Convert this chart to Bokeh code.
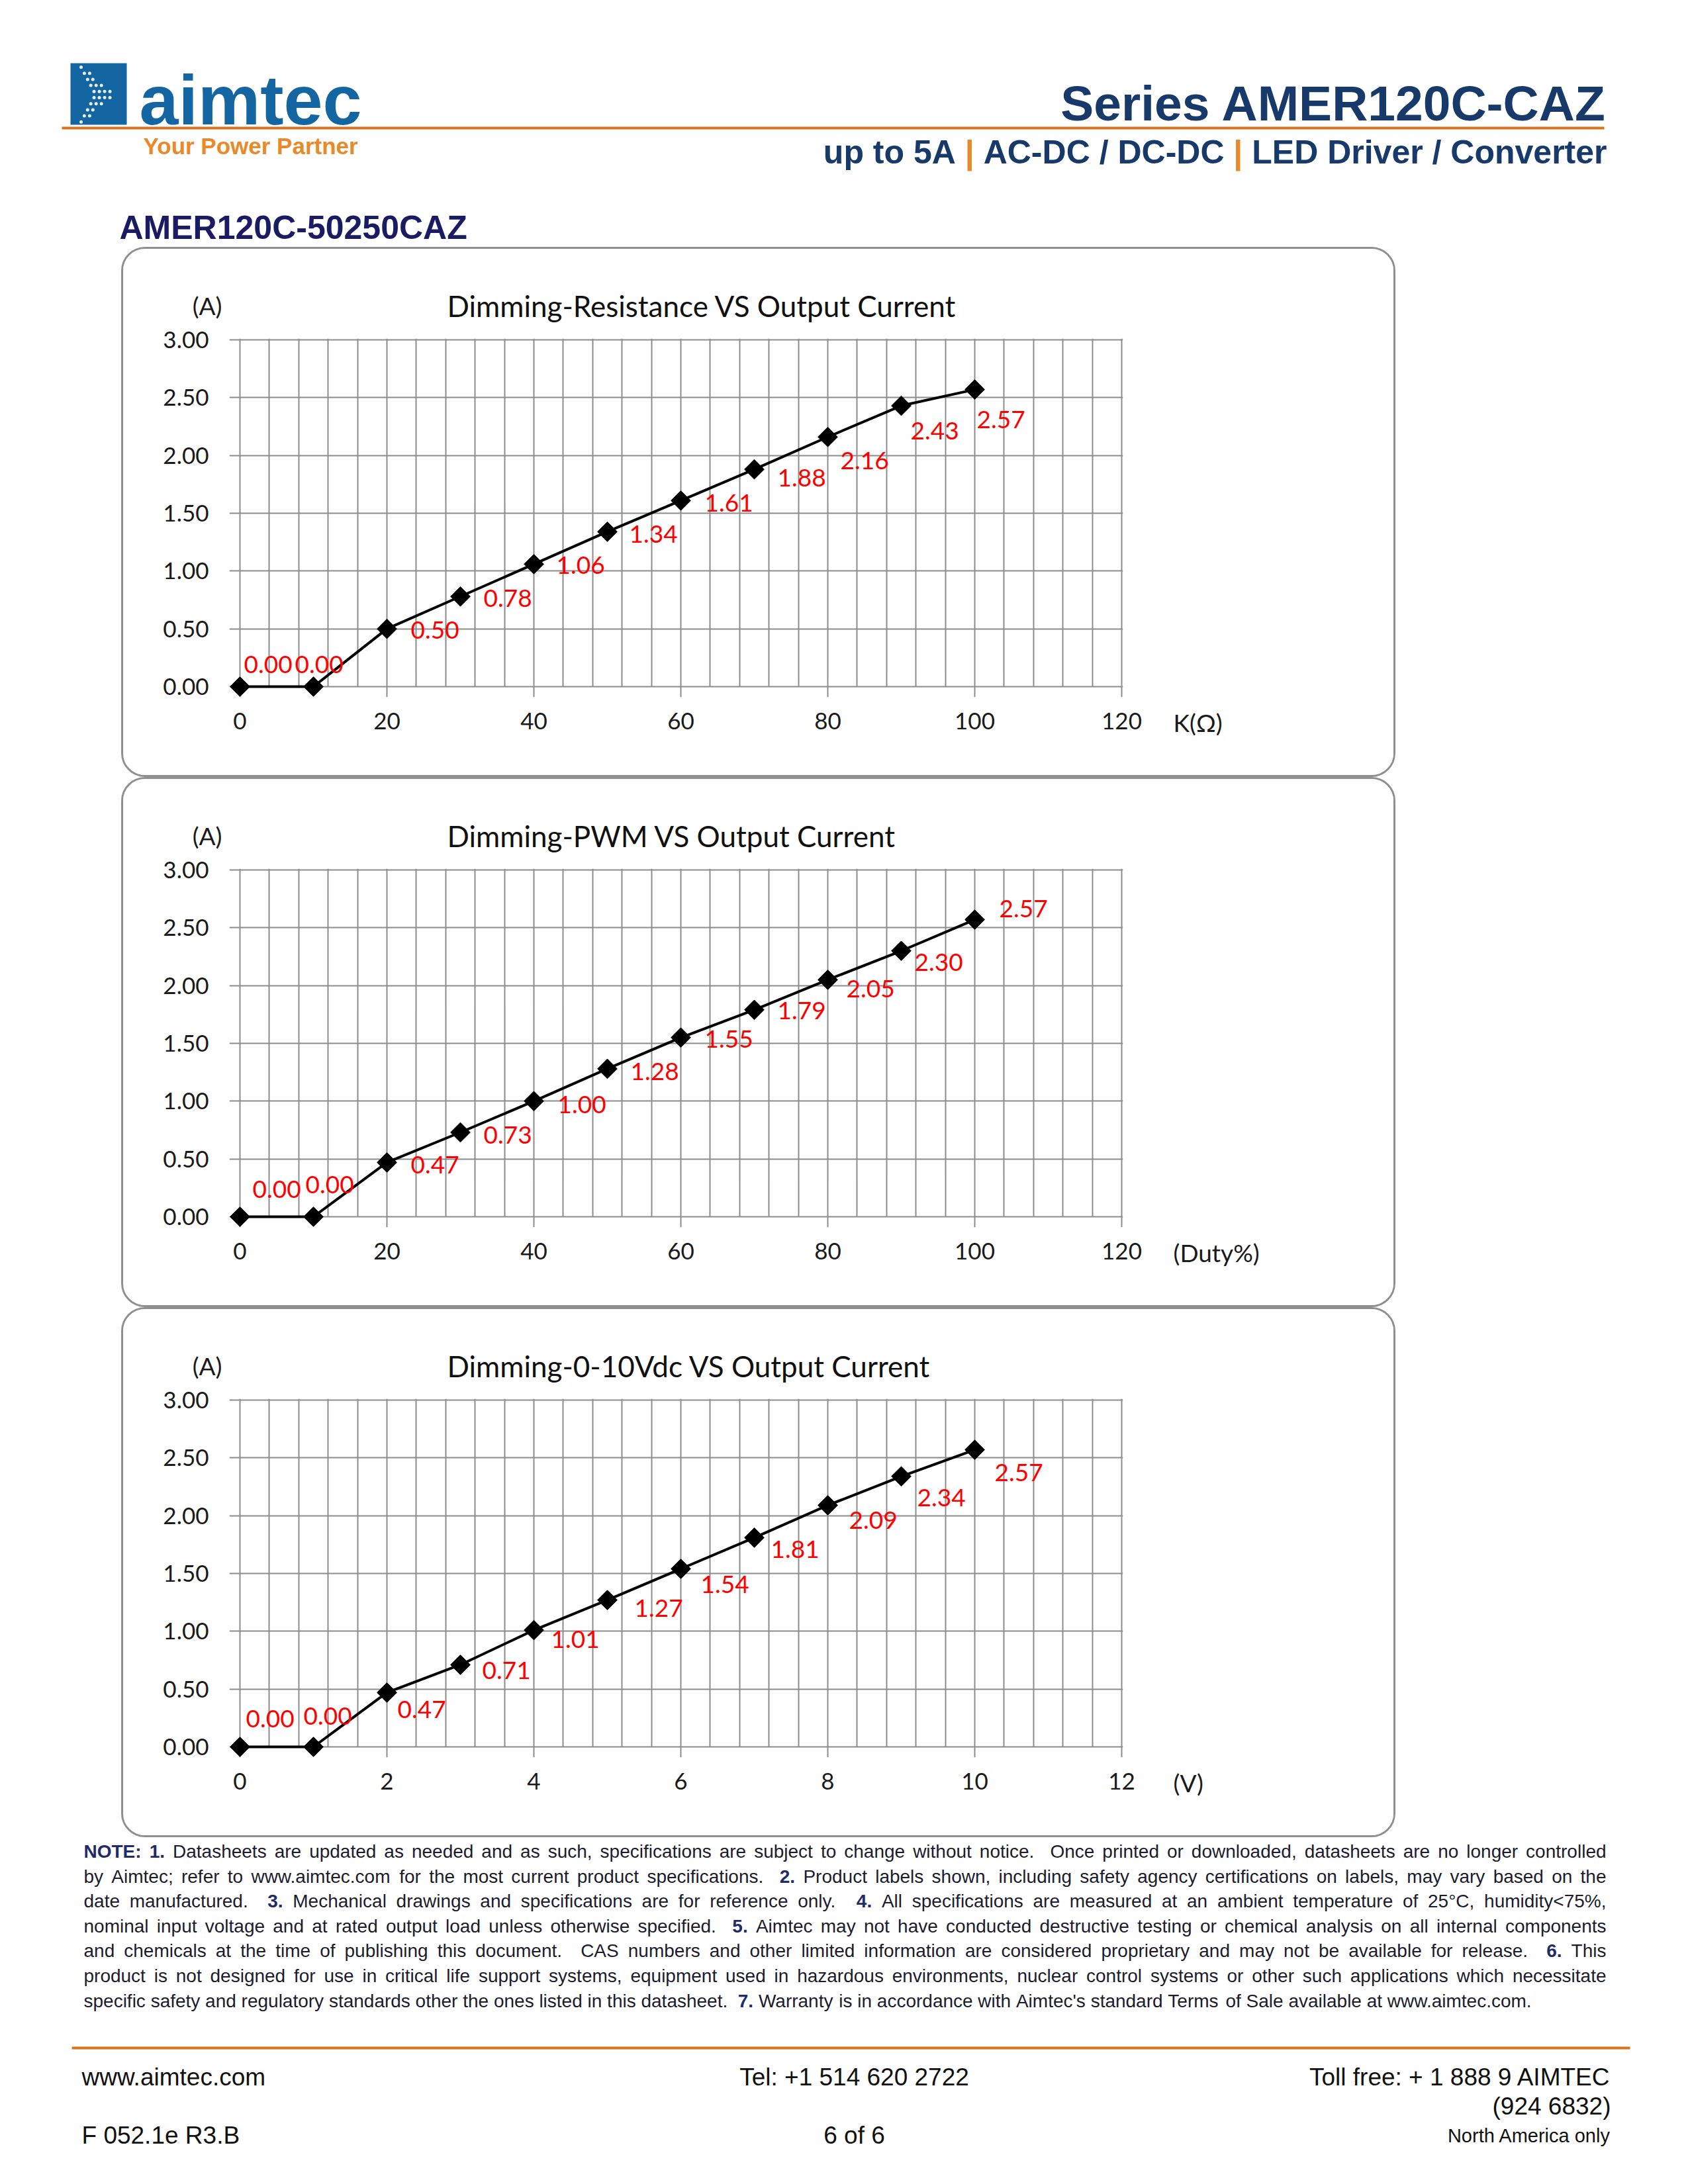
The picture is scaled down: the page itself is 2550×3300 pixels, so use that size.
import re
import numpy as np
from bokeh.plotting import figure
from bokeh.models import Range1d, FixedTicker, ColumnDataSource, LabelSet, Spacer, Grid
from bokeh.layouts import column, row
from bokeh.core.properties import value, field
from bokeh.embed import file_html
from bokeh.resources import INLINE

# ---------------- data ----------------
RES_X = [0, 10, 20, 30, 40, 50, 60, 70, 80, 90, 100]
RES_Y = [0.00, 0.00, 0.50, 0.78, 1.06, 1.34, 1.61, 1.88, 2.16, 2.43, 2.57]
PWM_X = [0, 10, 20, 30, 40, 50, 60, 70, 80, 90, 100]
PWM_Y = [0.00, 0.00, 0.47, 0.73, 1.00, 1.28, 1.55, 1.79, 2.05, 2.30, 2.57]
VDC_X = [0, 1, 2, 3, 4, 5, 6, 7, 8, 9, 10]
VDC_Y = [0.00, 0.00, 0.47, 0.71, 1.01, 1.27, 1.54, 1.81, 2.09, 2.34, 2.57]

Y_TICKS = [0, 0.5, 1.0, 1.5, 2.0, 2.5, 3.0]
Y_TICK_LABELS = ["0.00", "0.50", "1.00", "1.50", "2.00", "2.50", "3.00"]
PCT_X_TICKS = [0, 20, 40, 60, 80, 100, 120]
PCT_X_TICK_LABELS = ["0", "20", "40", "60", "80", "100", "120"]
VDC_X_TICKS = [0, 2, 4, 6, 8, 10, 12]
VDC_X_TICK_LABELS = ["0", "2", "4", "6", "8", "10", "12"]

TITLES = ["Dimming-Resistance VS Output Current",
          "Dimming-PWM VS Output Current",
          "Dimming-0-10Vdc VS Output Current"]
X_UNITS = ["K(\u03a9)", "(Duty%)", "(V)"]
Y_UNIT = "(A)"

SERIES_TITLE = "Series AMER120C-CAZ"
SUB_PARTS = ["up to 5A", "|", "AC-DC / DC-DC", "|", "LED Driver / Converter"]
PRODUCT = "AMER120C-50250CAZ"

NOTES = [
    "NOTE: 1. Datasheets are updated as needed and as such, specifications are subject to change without notice.  Once printed or downloaded, datasheets are no longer controlled",
    "by Aimtec; refer to www.aimtec.com for the most current product specifications.  2. Product labels shown, including safety agency certifications on labels, may vary based on the",
    "date manufactured.  3. Mechanical drawings and specifications are for reference only.  4. All specifications are measured at an ambient temperature of 25\u00b0C, humidity<75%,",
    "nominal input voltage and at rated output load unless otherwise specified.  5. Aimtec may not have conducted destructive testing or chemical analysis on all internal components",
    "and chemicals at the time of publishing this document.  CAS numbers and other limited information are considered proprietary and may not be available for release.  6. This",
    "product is not designed for use in critical life support systems, equipment used in hazardous environments, nuclear control systems or other such applications which necessitate",
    "specific safety and regulatory standards other the ones listed in this datasheet.  7. Warranty is in accordance with Aimtec's standard Terms of Sale available at www.aimtec.com.",
]
BOLD_TOKENS = {"NOTE:", "1.", "2.", "3.", "4.", "5.", "6.", "7."}

# ---------------- styling ----------------
NAVY = "#173A6A"
PROD_NAVY = "#1B1B63"
ORANGE = "#E8892A"
LINE_ORANGE = "#D9731E"
LOGO_BLUE = "#1466A3"
RED = "#FF0000"
GRID_MAJOR = "#8C8C8C"
GRID_MINOR = "#C6C6C6"
CHART_FONT = "Lato"
SANS = "Liberation Sans"
PAGE_W = 2534
RIGHT_EDGE = 2427

# Arial/Helvetica advance widths (1/1000 em) for layout of justified text
_REG = [278,278,355,556,556,889,667,191,333,333,389,584,278,333,278,278,
        556,556,556,556,556,556,556,556,556,556,
        278,278,584,584,584,556,1015,
        667,667,722,722,667,611,778,722,278,500,667,556,833,722,778,667,778,722,667,611,722,667,944,667,667,611,
        278,278,278,469,556,333,
        556,556,500,556,556,278,556,556,222,222,500,222,833,556,556,556,556,333,500,278,556,500,722,500,500,500,
        334,260,334,584]
_BOLD = [278,333,474,556,556,889,722,238,333,333,389,584,278,333,278,278,
         556,556,556,556,556,556,556,556,556,556,
         333,333,584,584,584,611,975,
         722,722,722,722,667,611,778,722,278,556,722,611,833,722,778,667,778,722,667,611,722,667,944,667,667,611,
         333,278,333,584,556,333,
         556,611,556,611,556,333,611,611,278,278,556,278,889,611,611,611,611,389,556,333,611,556,778,556,556,500,
         389,280,389,584]
REG_W = {chr(32 + i): w for i, w in enumerate(_REG)}
BOLD_W = {chr(32 + i): w for i, w in enumerate(_BOLD)}
REG_W["\u00b0"] = 400
BOLD_W["\u00b0"] = 400


def em(s, bold=False):
    t = BOLD_W if bold else REG_W
    return sum(t.get(ch, 556) for ch in s) / 1000.0


def no_align(f):
    if "frame_align" in f.properties():
        f.frame_align = False
    return f


def page_fig(x0, x1, y0, y1):
    f = figure(width=x1 - x0, height=y1 - y0, x_range=Range1d(x0, x1), y_range=Range1d(y1, y0),
               x_axis_location=None, y_axis_location=None, min_border=0, title=None,
               toolbar_location=None, output_backend="svg", outline_line_color=None)
    f.grid.visible = False
    return no_align(f)


# ---------------- header ----------------
hdr = page_fig(0, PAGE_W, 0, 373)

hdr.quad(left=[106], right=[191], top=[95], bottom=[188], fill_color=LOGO_BLUE, line_color=None)
dx_, dy_ = [], []
for r in range(10):
    yy = 101 + r * 9.2
    peak = 1 - abs(r - 4.5) / 4.5
    x0 = 122 + 22 * peak
    n = 1 + int(round(3 * peak))
    for k in range(n):
        dx_.append(x0 + k * 8)
        dy_.append(yy)
hdr.scatter(dx_, dy_, marker="circle", size=5, fill_color="white", line_color=None, fill_alpha=0.9)
hdr.text(x=[210], y=[150], text=["aimtec"], text_align="left", text_baseline="middle",
         text_font=value(SANS), text_font_style="bold", text_font_size="106px",
         text_color=LOGO_BLUE)
hdr.text(x=[216], y=[220], text=["Your Power Partner"], text_align="left", text_baseline="middle",
         text_font=value(SANS), text_font_style="bold", text_font_size="35px", text_color=ORANGE)

hdr.line(x=[93, 2423], y=[193, 193], line_color=LINE_ORANGE, line_width=4)

hdr.text(x=[RIGHT_EDGE], y=[155], text=[SERIES_TITLE], text_align="right", text_baseline="middle",
         text_font=value(SANS), text_font_style="bold", text_font_size="75px", text_color=NAVY)

SUB_FS = 50
total = sum(em(p_, True) for p_ in SUB_PARTS) + 0.278 * (len(SUB_PARTS) - 1)
xcur = RIGHT_EDGE - total * SUB_FS
sx, stxt, scol = [], [], []
for part in SUB_PARTS:
    sx.append(xcur)
    stxt.append(part)
    scol.append(ORANGE if part == "|" else NAVY)
    xcur += (em(part, True) + 0.278) * SUB_FS
hdr.text(x=sx, y=[229] * len(sx), text=stxt, text_color=scol, text_align="left",
         text_baseline="middle", text_font=value(SANS), text_font_style="bold",
         text_font_size=f"{SUB_FS}px")

hdr.text(x=[180], y=[343], text=[PRODUCT], text_align="left", text_baseline="middle",
         text_font=value(SANS), text_font_style="bold", text_font_size="50px", text_color=PROD_NAVY)


# ---------------- charts ----------------
BOX_X0, BOX_X1, BOX_H = 183, 2108, 801
BORDER = 3
FRAME_X0 = 362          # page x of data x = 0
FRAME_W, FRAME_H = 1332, 524
FRAME_TOP_REL = 140     # data y = 3 below box top
PAD_LO, PAD_HI = 16, 2
CHART_RIGHT = 40
CHART_TOP = 21
TICK_FS = "35px"
SMALL_FS = "37px"
BOX_STYLE = {"border": f"{BORDER}px solid #8F8F8F", "border-radius": "36px", "overflow": "hidden"}


def chart(box_top, xs, ys, xticks, xlabels, xmax, title, xunit, offs):
    ix0, ix1 = BOX_X0 + BORDER, BOX_X1 - BORDER
    iy0, iy1 = box_top + BORDER, box_top + BOX_H - BORDER
    frame_top = box_top + FRAME_TOP_REL - PAD_HI
    frame_left = FRAME_X0 - PAD_LO
    strip_bottom = frame_top - CHART_TOP

    # strip above the plot: title and y unit
    top = page_fig(ix0, ix1, iy0, strip_bottom)
    top.text(x=[675], y=[box_top + 88], text=[title], text_align="left", text_baseline="middle",
             text_font=value(CHART_FONT), text_font_size="44px", text_color="#111111")
    top.text(x=[335], y=[box_top + 88], text=[Y_UNIT], text_align="right", text_baseline="middle",
             text_font=value(CHART_FONT), text_font_size=SMALL_FS, text_color="#1A1A1A")

    ppx = FRAME_W / xmax
    ppy = FRAME_H / 3.0
    fw = FRAME_W + PAD_LO + PAD_HI
    fh = FRAME_H + PAD_LO + PAD_HI
    bottom_border = iy1 - (frame_top + fh)
    p = figure(frame_width=fw, frame_height=fh,
               x_range=Range1d(-PAD_LO / ppx, xmax + PAD_HI / ppx),
               y_range=Range1d(-PAD_LO / ppy, 3.0 + PAD_HI / ppy),
               min_border_left=frame_left - ix0, min_border_right=CHART_RIGHT,
               min_border_top=CHART_TOP, min_border_bottom=bottom_border,
               title=None, toolbar_location=None, output_backend="svg",
               outline_line_color=None, background_fill_color="white", border_fill_color="white")
    no_align(p)
    p.xaxis.ticker = FixedTicker(ticks=xticks)
    p.xaxis.major_label_overrides = {t: l for t, l in zip(xticks, xlabels)}
    p.yaxis.ticker = FixedTicker(ticks=Y_TICKS)
    p.yaxis.major_label_overrides = {t: l for t, l in zip(Y_TICKS, Y_TICK_LABELS)}
    for ax in (p.xaxis[0], p.yaxis[0]):
        ax.axis_line_color = None
        ax.major_tick_line_color = None
        ax.minor_tick_line_color = None
        ax.major_tick_out = 0
        ax.major_tick_in = 0
        ax.minor_tick_out = 0
        ax.minor_tick_in = 0
        ax.major_label_text_font = CHART_FONT
        ax.major_label_text_font_size = TICK_FS
        ax.major_label_text_color = "#1A1A1A"
    p.yaxis.major_label_standoff = 31
    p.xaxis.major_label_standoff = 23

    # light minor vertical grid (every 1/30 of the axis), stopping at y = 0
    minor = [xmax * i / 30.0 for i in range(31)]
    minor = [m for m in minor if all(abs(m - t) > 1e-9 for t in xticks)]
    mgrid = Grid(dimension=0, ticker=FixedTicker(ticks=minor),
                 grid_line_color=GRID_MINOR, grid_line_width=2)
    if "cross_bounds" in mgrid.properties():
        mgrid.cross_bounds = (0, 3.0 + PAD_HI / ppy)
    p.add_layout(mgrid)

    p.xgrid.grid_line_color = GRID_MAJOR
    p.xgrid.grid_line_width = 2
    p.xgrid.minor_grid_line_color = None
    p.ygrid.grid_line_color = GRID_MAJOR
    p.ygrid.grid_line_width = 2

    p.line(xs, ys, line_color="black", line_width=4)
    p.scatter(xs, ys, marker="square", size=21, angle=np.pi / 4, fill_color="black", line_color="black")

    src = ColumnDataSource(dict(x=xs, y=ys, label=[f"{v:.2f}" for v in ys],
                                dx=[o[0] for o in offs], dy=[o[1] for o in offs]))
    p.add_layout(LabelSet(x="x", y="y", text="label", x_offset="dx", y_offset="dy", source=src,
                          text_font=value(CHART_FONT), text_font_size=value(SMALL_FS),
                          text_color=value(RED), text_align="left", text_baseline="middle"))

    # strip right of the plot: x unit
    ux0 = frame_left + fw + CHART_RIGHT
    right = page_fig(ux0, ix1, strip_bottom, iy1)
    right.text(x=[1772], y=[box_top + 718], text=[xunit], text_align="left", text_baseline="middle",
               text_font=value(CHART_FONT), text_font_size=SMALL_FS, text_color="#1A1A1A")

    box = column(top, row(p, right), styles=BOX_STYLE)
    return row(Spacer(width=BOX_X0, height=BOX_H), box)


OFF_RES = [(6, 34), (-28, 34), (36, -2), (35, -3), (34, -2), (33, -4), (36, -4),
           (35, -13), (19, -36), (14, -38), (3, -45)]
OFF_PWM = [(19, 42), (-12, 49), (36, -4), (35, -4), (36, -5), (35, -4), (36, -2),
           (35, -1), (28, -14), (20, -17), (37, 17)]
OFF_VDC = [(9, 43), (-15, 47), (16, -26), (33, -9), (26, -14), (41, -12), (30, -23),
           (25, -18), (32, -23), (24, -32), (30, -34)]

c1 = chart(373, RES_X, RES_Y, PCT_X_TICKS, PCT_X_TICK_LABELS, 120, TITLES[0], X_UNITS[0], OFF_RES)
c2 = chart(373 + BOX_H, PWM_X, PWM_Y, PCT_X_TICKS, PCT_X_TICK_LABELS, 120, TITLES[1], X_UNITS[1], OFF_PWM)
c3 = chart(373 + 2 * BOX_H, VDC_X, VDC_Y, VDC_X_TICKS, VDC_X_TICK_LABELS, 12, TITLES[2], X_UNITS[2], OFF_VDC)


# ---------------- notes + footer ----------------
ftr = page_fig(0, PAGE_W, 373 + 3 * BOX_H, 3290)

N_LEFT, N_RIGHT, N_Y0, N_DY = 126, 2426, 2797, 37.6
target = N_RIGHT - N_LEFT


def line_tokens(line):
    out = []
    for t in re.findall(r"\S+|\s+", line):
        out.append((t, None) if t.isspace() else (t, t in BOLD_TOKENS))
    return out


nat = [sum(em(t, bool(b)) for t, b in line_tokens(line)) for line in NOTES]
NFS = min(28.0, target / max(nat[:-1]))

wx, wy, wt, wst, wc = [], [], [], [], []
for i, line in enumerate(NOTES):
    toks = line_tokens(line)
    nspace = sum(len(t) for t, b in toks if b is None)
    extra = (target - nat[i] * NFS) / nspace if (i < len(NOTES) - 1 and nspace) else 0.0
    x = N_LEFT
    for t, b in toks:
        if b is None:
            x += len(t) * (0.278 * NFS + extra)
        else:
            wx.append(x)
            wy.append(N_Y0 + i * N_DY)
            wt.append(t)
            wst.append("bold" if b else "normal")
            wc.append("#1F2C6B" if b else "#1C1C2E")
            x += em(t, b) * NFS
ftr.text(x="x", y="y", text="text", source=ColumnDataSource(dict(x=wx, y=wy, text=wt, st=wst, c=wc)),
         text_font_style=field("st"), text_color=field("c"), text_align="left", text_baseline="middle",
         text_font=value(SANS), text_font_size=f"{NFS:.2f}px")

ftr.line(x=[108, 2462], y=[3094, 3094], line_color=LINE_ORANGE, line_width=4)

FOOT_FS = "37px"
FOOT_R = 2433
ftr.text(x=[123, 123], y=[3138, 3226], text=["www.aimtec.com", "F 052.1e R3.B"], text_align="left",
         text_baseline="middle", text_font=value(SANS), text_font_size=FOOT_FS, text_color="#111111")
ftr.text(x=[1290, 1290], y=[3138, 3226], text=["Tel: +1 514 620 2722", "6 of 6"], text_align="center",
         text_baseline="middle", text_font=value(SANS), text_font_size=FOOT_FS, text_color="#111111")
ftr.text(x=[FOOT_R, FOOT_R], y=[3138, 3182], text=["Toll free: + 1 888 9 AIMTEC", "(924 6832)"],
         text_align="right", text_baseline="middle", text_font=value(SANS), text_font_size=FOOT_FS,
         text_color="#111111")
ftr.text(x=[FOOT_R], y=[3226], text=["North America only"], text_align="right", text_baseline="middle",
         text_font=value(SANS), text_font_size="29px", text_color="#111111")

page = column(hdr, c1, c2, c3, ftr)
open("out.html", "w").write(file_html(page, INLINE))
